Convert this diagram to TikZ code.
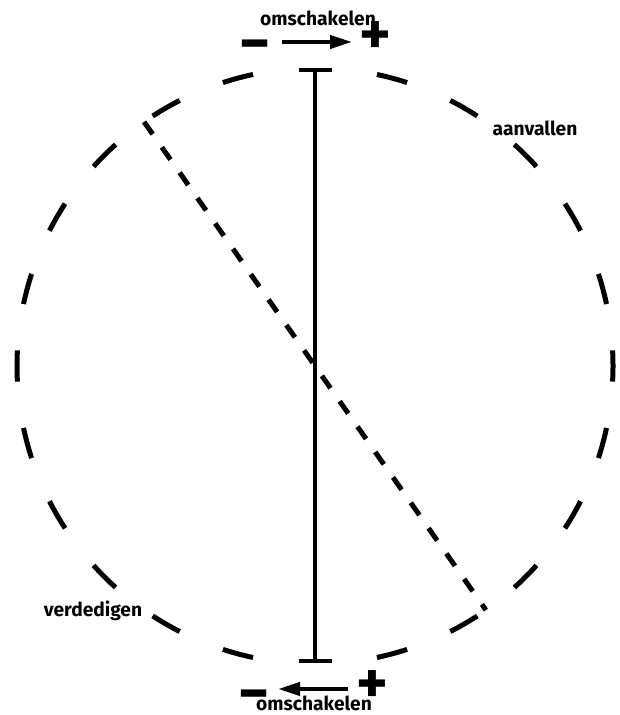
\documentclass[tikz,border=0pt]{standalone}
\usepackage{fontspec}
\setmainfont{Fira Sans}
\usetikzlibrary{arrows.meta,calc,positioning}

\begin{document}
\begin{tikzpicture}[x=0.5pt, y=0.5pt,
    label/.style={font=\fontsize{9.6}{11}\selectfont\bfseries, inner sep=0pt, anchor=base},
    sign/.style={font=\fontsize{30}{32}\selectfont\bfseries, inner sep=0pt, text height=14pt, text depth=-2pt},
    switch/.style={line width=2pt, -{Triangle[length=11pt, width=6.5pt]}},
    ring/.style={line width=2.5pt},
    axis/.style={line width=2pt, {Bar[width=16.5pt]}-{Bar[width=16.5pt]}},
    diag/.style={line width=2.5pt, dash pattern=on 7.5pt off 8pt}
]
    \useasboundingbox (0,0) rectangle (619,715);

    % Circle - dashed ring
    \coordinate (centre) at (315,349);
    \foreach \a in {0,15,30,45,60,75,105,120,135,150,165,180,195,210,225,240,255,285,300,315,330,345}
        \draw[ring] ($(centre)+(\a-3:298)$) arc[start angle=\a-3, end angle=\a+3, radius=298];

    % Vertical axis with bars
    \coordinate (top) at (315,647);
    \coordinate (bottom) at (315,52);
    \draw[axis] (bottom) -- (top);

    % Diagonal through the centre
    \coordinate (diagA) at ($(centre)+(125:298)$);
    \coordinate (diagB) at ($(centre)+(305:298)$);
    \draw[diag] (diagA) -- (diagB);

    % Labels on the ring
    \node[label] (attack) at (535,579) {aanvallen};
    \node[label] (defend) at (93,98) {verdedigen};

    % Switch at the top: - to +
    \node[label] (switchTop) at (318,689) {omschakelen};
    \node[sign] (minTop) at (255.5,665) {−};
    \node[sign] (plusTop) at (375,674) {+};
    \draw[switch] (282,673) -- (352,673);

    % Switch at the bottom: + to -
    \node[label] (switchBottom) at (314,4) {omschakelen};
    \node[sign] (minBottom) at (254,16) {−};
    \node[sign] (plusBottom) at (372,25) {+};
    \draw[switch] (348,26) -- (278,26);

\end{tikzpicture}
\end{document}
